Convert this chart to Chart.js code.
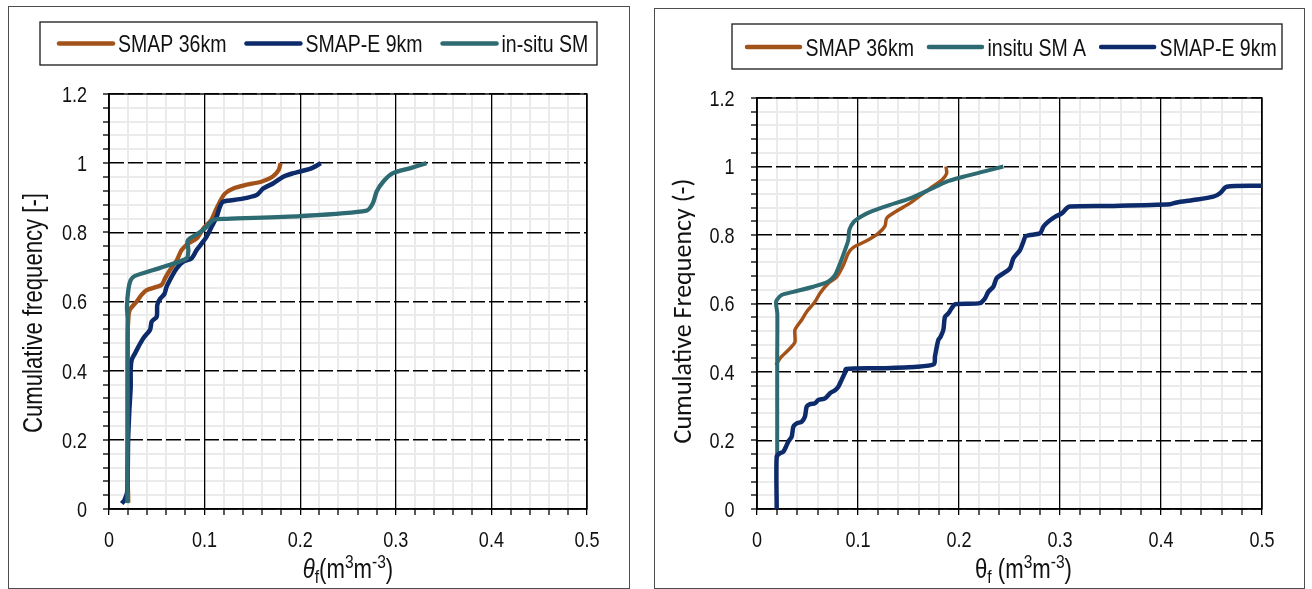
<!DOCTYPE html>
<html>
<head>
<meta charset="utf-8">
<script src="https://cdn.jsdelivr.net/npm/chart.js@4.4.1/dist/chart.umd.min.js"></script>
<style>
  html, body { margin: 0; padding: 0; background: #ffffff; }
  body { width: 1312px; height: 589px; position: relative; overflow: hidden; }
  .panel { position: absolute; border: 1px solid #4d4d4d; box-sizing: border-box; }
  #leftPanel { left: 8px; top: 6px; width: 622px; height: 583px; }
  #rightPanel { left: 654px; top: 8px; width: 651px; height: 581px; }
  canvas { position: absolute; top: 0; }
  #leftCanvas { left: 0; }
  #rightCanvas { left: 645px; }
</style>
</head>
<body>
<div class="panel" id="leftPanel"></div>
<div class="panel" id="rightPanel"></div>
<canvas id="leftCanvas" width="640" height="589"></canvas>
<canvas id="rightCanvas" width="667" height="589"></canvas>
<script>
// ---- tick labels ----
const xTickValues = [0, 0.1, 0.2, 0.3, 0.4, 0.5];
const xTickLabels = ['0', '0.1', '0.2', '0.3', '0.4', '0.5'];
const yTickValues = [0, 0.2, 0.4, 0.6, 0.8, 1.0, 1.2];
const yTickLabels = ['0', '0.2', '0.4', '0.6', '0.8', '1', '1.2'];

// ---- left panel: cumulative frequency of soil moisture ----
const leftSeriesNames = ['SMAP 36km', 'SMAP-E 9km', 'in-situ SM'];

const leftSmap36X = [0.0202, 0.0195, 0.0195, 0.0205, 0.022, 0.029, 0.034, 0.0394, 0.055, 0.0586, 0.0638, 0.071, 0.076, 0.083, 0.092, 0.099, 0.107, 0.112, 0.117, 0.1217, 0.130, 0.143, 0.160, 0.171, 0.1774, 0.1795];
const leftSmap36Y = [0.019, 0.1, 0.5, 0.56, 0.577, 0.600, 0.619, 0.633, 0.648, 0.667, 0.691, 0.720, 0.749, 0.768, 0.783, 0.812, 0.836, 0.866, 0.894, 0.913, 0.927, 0.937, 0.947, 0.961, 0.980, 1.0];

const leftSmapE9X = [0.0133, 0.016, 0.019, 0.020, 0.0213, 0.0227, 0.0227, 0.0237, 0.0272, 0.0307, 0.0359, 0.0429, 0.0447, 0.0499, 0.0505, 0.0533, 0.058, 0.0603, 0.0656, 0.0708, 0.0777, 0.0865, 0.0917, 0.097, 0.102, 0.1074, 0.1127, 0.116, 0.1196, 0.137, 0.1545, 0.1614, 0.172, 0.1823, 0.1928, 0.2, 0.2116, 0.2215];
const leftSmapE9Y = [0.016, 0.025, 0.05, 0.2, 0.286, 0.354, 0.402, 0.431, 0.450, 0.469, 0.494, 0.518, 0.542, 0.556, 0.590, 0.607, 0.622, 0.643, 0.672, 0.696, 0.715, 0.725, 0.749, 0.768, 0.787, 0.816, 0.845, 0.874, 0.889, 0.896, 0.908, 0.927, 0.942, 0.961, 0.971, 0.976, 0.985, 1.0];

const leftInsituX = [0.0192, 0.0195, 0.0195, 0.0195, 0.0188, 0.0202, 0.0227, 0.0272, 0.0464, 0.0638, 0.0813, 0.083, 0.082, 0.0847, 0.0934, 0.102, 0.109, 0.123, 0.2, 0.2695, 0.276, 0.280, 0.287, 0.297, 0.3145, 0.332];
const leftInsituY = [0.017, 0.2, 0.4, 0.55, 0.585, 0.633, 0.662, 0.674, 0.691, 0.706, 0.725, 0.749, 0.773, 0.783, 0.797, 0.816, 0.836, 0.839, 0.847, 0.863, 0.884, 0.918, 0.947, 0.971, 0.985, 1.0];

// ---- right panel ----
const rightSeriesNames = ['SMAP 36km', 'insitu SM A', 'SMAP-E 9km'];

const rightSmap36X = [0.0188, 0.0228, 0.0327, 0.0376, 0.0376, 0.0442, 0.0492, 0.0574, 0.0624, 0.0706, 0.0789, 0.0855, 0.0904, 0.0954, 0.1086, 0.1201, 0.1267, 0.1284, 0.1383, 0.1515, 0.1647, 0.1762, 0.1838, 0.1878, 0.1871];
const rightSmap36Y = [0.420, 0.440, 0.469, 0.488, 0.523, 0.552, 0.576, 0.605, 0.630, 0.659, 0.678, 0.712, 0.747, 0.764, 0.783, 0.805, 0.826, 0.849, 0.870, 0.893, 0.922, 0.946, 0.963, 0.980, 1.0];

const rightInsituX = [0.020, 0.020, 0.0201, 0.0188, 0.0195, 0.0244, 0.0360, 0.0558, 0.0706, 0.0772, 0.0822, 0.0871, 0.0904, 0.0914, 0.0960, 0.1036, 0.1152, 0.1317, 0.1515, 0.1713, 0.1878, 0.2043, 0.2241, 0.2439];
const rightInsituY = [0.15, 0.445, 0.571, 0.600, 0.610, 0.625, 0.634, 0.649, 0.664, 0.683, 0.717, 0.756, 0.785, 0.815, 0.839, 0.855, 0.871, 0.888, 0.907, 0.933, 0.956, 0.970, 0.985, 1.0];

const rightSmapE9X = [0.0195, 0.0195, 0.0228, 0.026, 0.0287, 0.0310, 0.0343, 0.036, 0.0393, 0.0442, 0.0475, 0.0492, 0.0525, 0.0574, 0.0607, 0.0673, 0.0723, 0.0772, 0.0805, 0.0838, 0.0871, 0.0881, 0.1251, 0.1581, 0.1752, 0.1762, 0.1795, 0.1818, 0.1845, 0.1861, 0.1894, 0.1927, 0.196, 0.2208, 0.2257, 0.229, 0.234, 0.2373, 0.2439, 0.2505, 0.2538, 0.2604, 0.2637, 0.2663, 0.2802, 0.2835, 0.2884, 0.2950, 0.3017, 0.3066, 0.3099, 0.3495, 0.4089, 0.4155, 0.432, 0.4518, 0.4584, 0.4650, 0.5];
const rightSmapE9Y = [0, 0.153, 0.163, 0.167, 0.182, 0.197, 0.211, 0.240, 0.250, 0.255, 0.270, 0.299, 0.306, 0.309, 0.318, 0.323, 0.338, 0.347, 0.357, 0.377, 0.398, 0.409, 0.411, 0.415, 0.423, 0.445, 0.493, 0.503, 0.523, 0.561, 0.571, 0.586, 0.598, 0.601, 0.615, 0.634, 0.649, 0.674, 0.688, 0.703, 0.732, 0.756, 0.780, 0.797, 0.805, 0.824, 0.839, 0.853, 0.863, 0.878, 0.883, 0.885, 0.890, 0.895, 0.902, 0.912, 0.922, 0.941, 0.944];

// ---- axis captions ----
const leftYTitle = 'Cumulative frequency [-]';
const rightYTitle = 'Cumulative Frequency (-)';
const leftXTitleParts = [['θ', 'italic'], ['f', 'sub'], ['(m', ''], ['3', 'sup'], ['m', ''], ['-3', 'sup'], [')', '']];
const rightXTitleParts = [['θ', ''], ['f', 'sub'], [' (m', ''], ['3', 'sup'], ['m', ''], ['-3', 'sup'], [')', '']];

// ---- styling ----
const COLOR_SMAP36 = '#a3531a';
const COLOR_SMAPE9 = '#0d2a6b';
const COLOR_INSITU = '#2d6a71';
const FONT_SANS = '"Liberation Sans", Arimo, Arial, sans-serif';
const FONT_HUMANIST = 'Carlito, Lato, "Open Sans", sans-serif';
const SQUEEZE = 0.82;          // condensed look for the sans text
const MINOR_GRID = '#ebebeb';
const TEXT_COLOR = '#111';

function zip(xs, ys) { return xs.map((x, i) => ({ x: x, y: ys[i] })); }
function isMultiple(v, step) { const k = Math.round(v / step); return Math.abs(v - k * step) < 1e-6; }

// draw condensed text at (x, y) with the current font
function narrowText(ctx, text, x, y, align, squeeze) {
  ctx.save();
  ctx.translate(x, y);
  ctx.scale(squeeze, 1);
  ctx.textAlign = align;
  ctx.fillText(text, 0, 0);
  ctx.restore();
}

// framed legend drawn from the datasets' labels and colours
const boxedLegend = {
  id: 'boxedLegend',
  afterDraw(chart, args, o) {
    const ctx = chart.ctx;
    ctx.save();
    ctx.strokeStyle = '#1a1a1a';
    ctx.lineWidth = 1.3;
    ctx.strokeRect(o.frame[0], o.frame[1], o.frame[2] - o.frame[0], o.frame[3] - o.frame[1]);
    ctx.font = o.size + 'px ' + FONT_SANS;
    ctx.textBaseline = 'alphabetic';
    let x = o.startX;
    chart.data.datasets.forEach(ds => {
      ctx.strokeStyle = ds.borderColor;
      ctx.lineWidth = 4.5;
      ctx.lineCap = 'round';
      ctx.beginPath();
      ctx.moveTo(x, o.y);
      ctx.lineTo(x + o.lineLength, o.y);
      ctx.stroke();
      x += o.lineLength + o.gap;
      ctx.fillStyle = TEXT_COLOR;
      narrowText(ctx, ds.label, x, o.y + o.size * 0.36, 'left', SQUEEZE);
      x += ctx.measureText(ds.label).width * SQUEEZE + o.spacing;
    });
    ctx.restore();
  }
};

// solid frame round the plot area
const plotFrame = {
  id: 'plotFrame',
  beforeDatasetsDraw(chart) {
    const { ctx, chartArea: a } = chart;
    ctx.save();
    ctx.strokeStyle = '#000';
    ctx.lineWidth = 1.4;
    ctx.strokeRect(a.left, a.top, a.right - a.left, a.bottom - a.top);
    ctx.restore();
  }
};

// condensed tick labels placed through the chart's own scales
const tickText = {
  id: 'tickText',
  afterDraw(chart, args, o) {
    const ctx = chart.ctx;
    const xs = chart.scales.x, ys = chart.scales.y;
    ctx.save();
    ctx.fillStyle = TEXT_COLOR;
    ctx.font = o.size + 'px ' + FONT_SANS;
    ctx.textBaseline = 'alphabetic';
    xTickLabels.forEach((t, i) => {
      narrowText(ctx, t, xs.getPixelForValue(xTickValues[i]), xs.top + o.xDrop, 'center', SQUEEZE);
    });
    yTickLabels.forEach((t, i) => {
      narrowText(ctx, t, ys.right - o.yGap, ys.getPixelForValue(yTickValues[i]) + o.size * 0.358, 'right', SQUEEZE);
    });
    ctx.restore();
  }
};

// axis captions (x caption has sub/superscripts)
const axisCaptions = {
  id: 'axisCaptions',
  afterDraw(chart, args, o) {
    const ctx = chart.ctx;
    const a = chart.chartArea;
    ctx.save();
    ctx.fillStyle = TEXT_COLOR;
    // y caption, rotated
    ctx.font = o.yFont;
    ctx.textBaseline = 'middle';
    ctx.translate(o.yX, o.yY);
    ctx.rotate(-Math.PI / 2);
    narrowText(ctx, o.yText, 0, 0, 'center', o.ySqueeze);
    ctx.setTransform(1, 0, 0, 1, 0, 0);
    // x caption
    ctx.textBaseline = 'alphabetic';
    const fontFor = p => (p[1] === 'italic' ? 'italic ' : '') +
      ((p[1] === 'sub' || p[1] === 'sup') ? Math.round(o.xSize * 0.7) : o.xSize) + 'px ' + FONT_SANS;
    let total = 0;
    o.xParts.forEach(p => { ctx.font = fontFor(p); total += ctx.measureText(p[0]).width * SQUEEZE; });
    let x = (a.left + a.right) / 2 + o.xDx - total / 2;
    o.xParts.forEach(p => {
      ctx.font = fontFor(p);
      const dy = p[1] === 'sub' ? o.xSize * 0.2 : (p[1] === 'sup' ? -o.xSize * 0.36 : 0);
      narrowText(ctx, p[0], x, o.xBaseline + dy, 'left', SQUEEZE);
      x += ctx.measureText(p[0]).width * SQUEEZE;
    });
    ctx.restore();
  }
};

function buildScales() {
  return {
    x: {
      type: 'linear', min: 0, max: 0.5,
      afterFit: s => { s.height = 40; },
      ticks: { display: false, stepSize: 0.02, autoSkip: false },
      grid: {
        color: c => isMultiple(c.tick.value, 0.1) ? '#000' : MINOR_GRID,
        lineWidth: c => isMultiple(c.tick.value, 0.1) ? 1.3 : 2,
        tickColor: '#000', tickLength: 6, tickWidth: 1.3, z: -2
      },
      border: { color: '#000', width: 1.6 }
    },
    y: {
      type: 'linear', min: 0, max: 1.2, position: 'left',
      afterFit: s => { s.width = 60; },
      ticks: { display: false, stepSize: 0.04, autoSkip: false },
      grid: {
        color: c => isMultiple(c.tick.value, 0.2) ? 'rgba(0,0,0,0)' : MINOR_GRID,
        lineWidth: 2,
        tickColor: '#000', tickLength: 6, tickWidth: 1.3, z: -3
      },
      border: { color: '#000', width: 1.6 }
    },
    yMajor: {
      type: 'linear', min: 0, max: 1.2, position: 'left',
      afterFit: s => { s.width = 0; },
      ticks: { display: false, stepSize: 0.2 },
      grid: { color: '#000', lineWidth: 1.5, drawTicks: false, z: -1 },
      border: { display: false, dash: [15, 4] }
    }
  };
}

function lineSet(label, xs, ys, color, width, order) {
  return {
    label: label, data: zip(xs, ys), borderColor: color, backgroundColor: color,
    borderWidth: width, pointRadius: 0, tension: 0.25, fill: false, order: order
  };
}

const common = { responsive: false, animation: false, events: [], devicePixelRatio: 1 };

new Chart(document.getElementById('leftCanvas'), {
  type: 'line',
  data: {
    datasets: [
      lineSet(leftSeriesNames[0], leftSmap36X, leftSmap36Y, COLOR_SMAP36, 4.3, 3),
      lineSet(leftSeriesNames[1], leftSmapE9X, leftSmapE9Y, COLOR_SMAPE9, 4.5, 2),
      lineSet(leftSeriesNames[2], leftInsituX, leftInsituY, COLOR_INSITU, 4.3, 1)
    ]
  },
  options: Object.assign({}, common, {
    layout: { padding: { left: 49, right: 53, top: 94, bottom: 40 } },
    scales: buildScales(),
    plugins: {
      legend: { display: false }, tooltip: { enabled: false },
      tickText: { size: 22, xDrop: 38, yGap: 22 },
      boxedLegend: { frame: [40, 22, 597, 65], startX: 59, y: 43.5, lineLength: 54, gap: 5, spacing: 20, size: 23.8 },
      axisCaptions: {
        yText: leftYTitle, yFont: '27px ' + FONT_SANS, ySqueeze: SQUEEZE, yX: 35, yY: 313,
        xParts: leftXTitleParts, xSize: 27, xDx: 0, xBaseline: 578
      }
    }
  }),
  plugins: [plotFrame, tickText, boxedLegend, axisCaptions]
});

new Chart(document.getElementById('rightCanvas'), {
  type: 'line',
  data: {
    datasets: [
      lineSet(rightSeriesNames[0], rightSmap36X, rightSmap36Y, COLOR_SMAP36, 3.5, 3),
      lineSet(rightSeriesNames[1], rightInsituX, rightInsituY, COLOR_INSITU, 4, 2),
      lineSet(rightSeriesNames[2], rightSmapE9X, rightSmapE9Y, COLOR_SMAPE9, 4.5, 1)
    ]
  },
  options: Object.assign({}, common, {
    layout: { padding: { left: 52, right: 50, top: 98, bottom: 40 } },
    scales: buildScales(),
    plugins: {
      legend: { display: false }, tooltip: { enabled: false },
      tickText: { size: 22, xDrop: 38, yGap: 22.5 },
      boxedLegend: { frame: [87, 24, 637, 69], startX: 102, y: 47, lineLength: 53, gap: 5.5, spacing: 15, size: 23.8 },
      axisCaptions: {
        yText: rightYTitle, yFont: '26px ' + FONT_HUMANIST, ySqueeze: 1, yX: 39, yY: 311,
        xParts: rightXTitleParts, xSize: 27, xDx: 14, xBaseline: 578
      }
    }
  }),
  plugins: [plotFrame, tickText, boxedLegend, axisCaptions]
});
</script>
</body>
</html>
